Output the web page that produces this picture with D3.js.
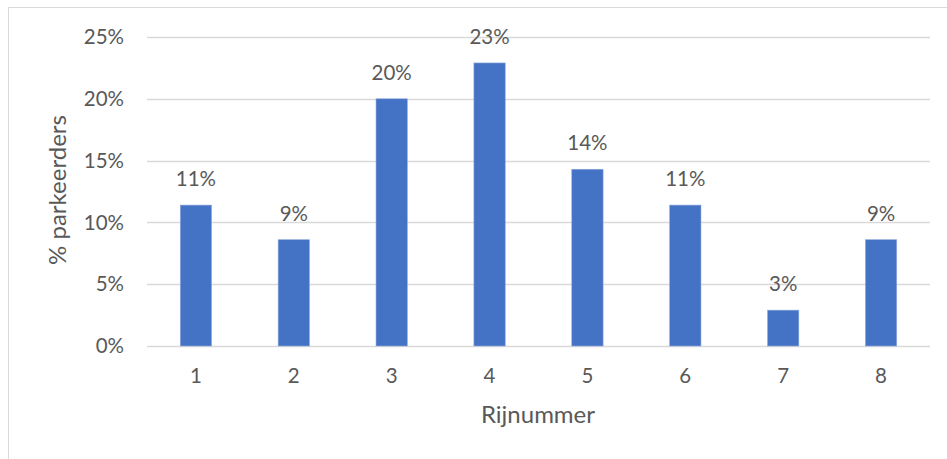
<!DOCTYPE html>
<html><head><meta charset="utf-8">
<script src="https://cdn.jsdelivr.net/npm/d3@7"></script>
<style>body{margin:0;background:#fff}svg{display:block}text{font-family:Lato,"Open Sans",sans-serif;fill:#595959}</style>
</head><body><svg id="c" width="947" height="459"></svg>
<script>
const categories = ["1","2","3","4","5","6","7","8"];
const values = [0.114, 0.086, 0.200, 0.229, 0.143, 0.114, 0.029, 0.086];
const labels = ["11%","9%","20%","23%","14%","11%","3%","9%"];
const yTicks = [0, 0.05, 0.10, 0.15, 0.20, 0.25];

const svg = d3.select("#c");
svg.append("rect").attr("x",8.5).attr("y",7.5).attr("width",960).attr("height",480)
  .attr("fill","none").attr("stroke","#d9d9d9").attr("stroke-width",1);

const x = d3.scaleBand().domain(categories).range([147,930]).paddingInner(0.68).paddingOuter(0.34);
const y = d3.scaleLinear().domain([0,0.25]).range([346,37]);

svg.append("g").selectAll("line").data(yTicks).join("line")
  .attr("x1",147).attr("x2",930).attr("y1",d=>Math.round(y(d))+0.5).attr("y2",d=>Math.round(y(d))+0.5)
  .attr("stroke","#d9d9d9").attr("stroke-width",1.3);

svg.append("g").selectAll("text").data(yTicks).join("text")
  .attr("x",124).attr("y",d=>y(d)).attr("dy","0.35em").attr("text-anchor","end")
  .attr("font-size",20.5).text(d=>d3.format(".0%")(d));

svg.append("g").selectAll("rect").data(values).join("rect")
  .attr("x",(d,i)=>x(categories[i])).attr("width",x.bandwidth())
  .attr("y",d=>y(d)).attr("height",d=>y(0)-y(d))
  .attr("fill","#4472c4").attr("stroke","#8faadc").attr("stroke-width",0.6);

svg.append("g").selectAll("text").data(values).join("text")
  .attr("x",(d,i)=>x(categories[i])+x.bandwidth()/2).attr("y",d=>y(d)-19)
  .attr("text-anchor","middle").attr("font-size",20.5).text((d,i)=>labels[i]);

svg.append("g").selectAll("text").data(categories).join("text")
  .attr("x",d=>x(d)+x.bandwidth()/2).attr("y",383).attr("text-anchor","middle")
  .attr("font-size",20.5).text(d=>d);

svg.append("text").attr("x",538).attr("y",423).attr("text-anchor","middle")
  .attr("font-size",24).text("Rijnummer");

svg.append("text").attr("transform","translate(66,190) rotate(-90)").attr("text-anchor","middle")
  .attr("font-size",24).text("% parkeerders");
</script></body></html>
